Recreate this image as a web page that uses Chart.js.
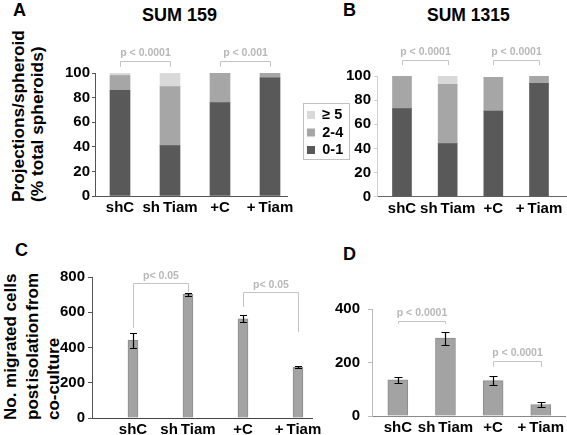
<!DOCTYPE html>
<html><head><meta charset="utf-8">
<script src="https://cdn.jsdelivr.net/npm/chart.js@4.4.0/dist/chart.umd.min.js"></script>
<style>
body{margin:0;background:#fff;}
#page{position:relative;width:567px;height:435px;overflow:hidden;font-family:'Liberation Sans',Arial,sans-serif;background:#fff;}
.t{position:absolute;font-weight:bold;color:#000;white-space:nowrap;line-height:18px;font-size:18px;}
.yt{position:absolute;font-weight:bold;color:#000;white-space:nowrap;transform-origin:0 0;transform:rotate(-90deg);}
canvas{position:absolute;}
</style></head><body>
<div id="page">
<div class="t" style="left:13px;top:1px">A</div>
<div class="t" style="left:142px;top:6px">SUM 159</div>
<div class="t" style="left:343px;top:1px">B</div>
<div class="t" style="left:427px;top:6px;font-size:17.5px">SUM 1315</div>
<div class="t" style="left:15px;top:241px">C</div>
<div class="t" style="left:343px;top:245px">D</div>
<div class="yt" style="left:9px;top:202px;font-size:17.3px;line-height:19px">Projections/spheroid<br>(% total spheroids)</div>
<div class="yt" style="left:0px;top:420px;font-size:17px;line-height:21.5px">No. migrated cells<br><span style="word-spacing:-3px">post isolation from</span><br>co-culture</div>
<canvas id="cA" width="300" height="225" style="left:0;top:0"></canvas>
<canvas id="cB" width="277" height="225" style="left:290px;top:0"></canvas>
<canvas id="cC" width="330" height="215" style="left:0;top:220px"></canvas>
<canvas id="cD" width="267" height="215" style="left:300px;top:220px"></canvas>
</div>
<script>
// ---------- data ----------
const categories = ['shC', 'sh\u2009Tiam', '+C', '+\u2009Tiam'];
const legendLabels = ['0-1', '2-4', '\u2265 5'];
// Panel A: SUM 159, projections per spheroid (% of total spheroids)
const sum159_0to1 = [86, 41, 76, 96];
const sum159_2to4 = [12, 48, 24, 4];
const sum159_5plus = [2, 11, 0, 0];
// Panel B: SUM 1315
const sum1315_0to1 = [73, 44, 71, 94];
const sum1315_2to4 = [27, 49, 28, 6];
const sum1315_5plus = [0, 7, 0, 0];
// Panel C: migrated cells
const migratedC = [440, 701, 563, 289];
const migratedCErr = [42, 8, 19, 5];
// Panel D: migrated cells
const migratedD = [135, 291, 132, 43];
const migratedDErr = [10, 24, 17, 10];
// tick labels
const yTicksPct = [0, 20, 40, 60, 80, 100];
const yTicksC = [0, 200, 400, 600, 800];
const yTicksD = [0, 200, 400];
// significance annotations (data units)
const pvalsA = [
  {text: 'p < 0.0001', a: 0, b: 1, level: 109.5, endA: 105, endB: 105},
  {text: 'p < 0.001', a: 2, b: 3, level: 109.5, endA: 105, endB: 105}
];
const pvalsB = [
  {text: 'p < 0.0001', a: 0, b: 1, level: 113, endA: 109, endB: 109},
  {text: 'p < 0.0001', a: 2, b: 3, level: 113, endA: 109, endB: 109}
];
const pvalsC = [
  {text: 'p< 0.05', a: 0, b: 1, level: 766, endA: 511, endB: 715},
  {text: 'p< 0.05', a: 2, b: 3, level: 715, endA: 630, endB: 488}
];
const pvalsD = [
  {text: 'p < 0.0001', a: 0, b: 1, level: 356, endA: 345, endB: 345},
  {text: 'p < 0.0001', a: 2, b: 3, level: 206, endA: 184, endB: 184}
];

// ---------- styling ----------
const DARK = '#595959', MID = '#a6a6a6', LIGHT = '#d9d9d9';
const BAR = '#a3a3a3', BAR_EDGE = '#8c8c8c';
const FONT = "'Liberation Sans', Arial, sans-serif";
Chart.defaults.font.family = FONT;
Chart.defaults.font.size = 15;
Chart.defaults.font.weight = 'bold';
Chart.defaults.color = '#000';

const pts = arr => arr.map((v, i) => ({x: i, y: v}));

const errorBars = {
  id: 'errorBars',
  afterDatasetsDraw(chart, args, opts) {
    const ctx = chart.ctx, ys = chart.scales.y;
    chart.data.datasets.forEach((ds, di) => {
      if (!ds.errors) return;
      const meta = chart.getDatasetMeta(di);
      meta.data.forEach((bar, i) => {
        const v = ds.data[i].y, e = ds.errors[i];
        const yt = Math.round(ys.getPixelForValue(v + e)) + 0.5;
        const yb = Math.round(ys.getPixelForValue(v - e)) + 0.5;
        const x = Math.round(bar.x) + 0.5, w = (opts.cap || 6) / 2;
        ctx.save();
        ctx.strokeStyle = '#000'; ctx.lineWidth = 1.2;
        ctx.beginPath();
        ctx.moveTo(x, yt); ctx.lineTo(x, yb);
        ctx.moveTo(x - w, yt); ctx.lineTo(x + w, yt);
        ctx.moveTo(x - w, yb); ctx.lineTo(x + w, yb);
        ctx.stroke();
        ctx.restore();
      });
    });
  }
};

const brackets = {
  id: 'brackets',
  afterDraw(chart, args, opts) {
    const ctx = chart.ctx, xs = chart.scales.x, ys = chart.scales.y;
    (opts.items || []).forEach(b => {
      const x1 = Math.round(xs.getPixelForValue(b.a)) + 0.5;
      const x2 = Math.round(xs.getPixelForValue(b.b)) + 0.5;
      const yl = Math.round(ys.getPixelForValue(b.level)) + 0.5;
      const y1 = ys.getPixelForValue(b.endA), y2 = ys.getPixelForValue(b.endB);
      ctx.save();
      ctx.strokeStyle = '#c4c4c4'; ctx.lineWidth = 1;
      ctx.beginPath();
      ctx.moveTo(x1, y1); ctx.lineTo(x1, yl); ctx.lineTo(x2, yl); ctx.lineTo(x2, y2);
      ctx.stroke();
      ctx.fillStyle = '#b8b8b8';
      ctx.font = 'bold 10.5px ' + FONT;
      ctx.textAlign = 'center'; ctx.textBaseline = 'middle';
      ctx.fillText(b.text, (x1 + x2) / 2, yl - (opts.gap || 8));
      ctx.restore();
    });
  }
};

// keeps the legend box narrow so the neighbouring y tick labels are not clipped
const legendWidth = {
  id: 'legendWidth',
  afterInit(chart, args, opts) {
    const lg = chart.legend;
    if (!lg || !opts.width) return;
    const fit = lg.fit;
    lg.fit = function () { fit.call(this); this.width = opts.width; };
  }
};

const legendFrame = {
  id: 'legendFrame',
  afterDraw(chart) {
    const lg = chart.legend;
    if (!lg || !lg.options.display || !lg.legendHitBoxes || !lg.legendHitBoxes.length) return;
    const hb = lg.legendHitBoxes, f = hb[0], l = hb[hb.length - 1];
    const ctx = chart.ctx;
    const left = Math.round(f.left - 4) + 0.5, right = Math.round(f.left + 42) + 0.5;
    const top = Math.round(f.top + f.height / 2 - 12) + 0.5, bottom = Math.round(l.top + l.height / 2 + 9) + 0.5;
    ctx.save();
    ctx.strokeStyle = '#c0c0c0'; ctx.lineWidth = 1;
    ctx.strokeRect(left, top, right - left, bottom - top);
    ctx.restore();
  }
};

function xScale(min, max, height, borderColor) {
  return {
    type: 'linear', min: min, max: max, stacked: true, offset: false,
    afterBuildTicks(s) { s.ticks = categories.map((c, i) => ({value: i})); },
    afterFit(s) { s.height = height; },
    ticks: {callback: v => categories[v], autoSkip: false, maxRotation: 0, padding: 3},
    grid: {display: false, drawTicks: false},
    border: {display: true, color: borderColor, width: 1}
  };
}

function base(extra) {
  return Object.assign({
    responsive: false, animation: false, devicePixelRatio: 1, events: [],
  }, extra);
}

// ---------- Panel A ----------
new Chart(document.getElementById('cA'), {
  type: 'bar',
  data: {
    datasets: [
      {label: legendLabels[0], data: pts(sum159_0to1), backgroundColor: DARK, barThickness: 20},
      {label: legendLabels[1], data: pts(sum159_2to4), backgroundColor: MID, barThickness: 20},
      {label: legendLabels[2], data: pts(sum159_5plus), backgroundColor: LIGHT, barThickness: 20}
    ]
  },
  options: base({
    layout: {padding: {left: 0, right: 13, top: 73, bottom: 0}},
    plugins: {legend: {display: false}, tooltip: {enabled: false}, brackets: {items: pvalsA, gap: 8}},
    scales: {
      x: xScale(-0.5, 3.34, 29, '#555'),
      y: {
        min: 0, max: 100, stacked: true,
        afterFit(s) { s.width = 95; },
        ticks: {stepSize: 10, padding: 2, callback: v => yTicksPct.includes(v) ? v : ''},
        grid: {display: true, drawOnChartArea: false, drawTicks: true, tickLength: 3, color: '#555'},
        border: {display: true, color: '#555', width: 1}
      }
    }
  }),
  plugins: [brackets]
});

// ---------- Panel B ----------
new Chart(document.getElementById('cB'), {
  type: 'bar',
  data: {
    datasets: [
      {label: legendLabels[0], data: pts(sum1315_0to1), backgroundColor: DARK, barThickness: 19},
      {label: legendLabels[1], data: pts(sum1315_2to4), backgroundColor: MID, barThickness: 19},
      {label: legendLabels[2], data: pts(sum1315_5plus), backgroundColor: LIGHT, barThickness: 19}
    ]
  },
  options: base({
    layout: {padding: {left: 14, right: 0, top: 76, bottom: 0}},
    plugins: {
      legend: {
        display: true, position: 'left', fullSize: false, reverse: true, align: 'start',
        title: {display: true, text: ' ', font: {size: 10}, padding: {top: 16.75, bottom: 0}},
        labels: {boxWidth: 8, boxHeight: 8, padding: 3, color: '#000', font: {size: 14.5, weight: 'bold'}}
      },
      legendWidth: {width: 42},
      tooltip: {enabled: false},
      brackets: {items: pvalsB, gap: 8}
    },
    scales: {
      x: xScale(-0.547, 3.613, 28.3, '#666'),
      y: {
        min: 0, max: 100, stacked: true,
        afterFit(s) { s.width = 87 - 14 - 42; },
        ticks: {stepSize: 20, padding: 3, callback: v => yTicksPct.includes(v) ? v : ''},
        grid: {display: true, drawOnChartArea: false, drawTicks: true, tickLength: 3, color: '#d0d0d0'},
        border: {display: true, color: '#d0d0d0', width: 1}
      }
    }
  }),
  plugins: [legendWidth, brackets, legendFrame]
});

// ---------- Panel C ----------
new Chart(document.getElementById('cC'), {
  type: 'bar',
  data: {
    datasets: [
      {label: 'migrated', data: pts(migratedC), errors: migratedCErr,
       backgroundColor: BAR, borderColor: BAR_EDGE, borderWidth: 1, barThickness: 10}
    ]
  },
  options: base({
    layout: {padding: {left: 0, right: 18, top: 57, bottom: 0}},
    plugins: {legend: {display: false}, tooltip: {enabled: false},
      brackets: {items: pvalsC, gap: 7}, errorBars: {cap: 7}},
    scales: {
      x: xScale(-0.745, 3.255, 17, '#444'),
      y: {
        min: 0, max: 800,
        afterFit(s) { s.width = 92; },
        ticks: {stepSize: 100, padding: 3, callback: v => yTicksC.includes(v) ? v : ''},
        grid: {display: true, drawOnChartArea: false, drawTicks: true, tickLength: 4, color: '#555'},
        border: {display: true, color: '#555', width: 1}
      }
    }
  }),
  plugins: [errorBars, brackets]
});

// ---------- Panel D ----------
new Chart(document.getElementById('cD'), {
  type: 'bar',
  data: {
    datasets: [
      {label: 'migrated', data: pts(migratedD), errors: migratedDErr,
       backgroundColor: BAR, borderColor: BAR_EDGE, borderWidth: 1, barThickness: 20}
    ]
  },
  options: base({
    layout: {padding: {left: 0, right: 0, top: 89, bottom: 0}},
    plugins: {legend: {display: false}, tooltip: {enabled: false},
      brackets: {items: pvalsD, gap: 8}, errorBars: {cap: 8}},
    scales: {
      x: xScale(-0.542, 3.521, 19, '#888'),
      y: {
        min: 0, max: 400,
        afterFit(s) { s.width = 72; },
        ticks: {stepSize: 200, padding: 8, callback: v => yTicksD.includes(v) ? v : ''},
        grid: {display: true, drawOnChartArea: false, drawTicks: true, tickLength: 4, color: '#bbb'},
        border: {display: true, color: '#bbb', width: 1}
      }
    }
  }),
  plugins: [errorBars, brackets]
});
</script>
</body></html>
